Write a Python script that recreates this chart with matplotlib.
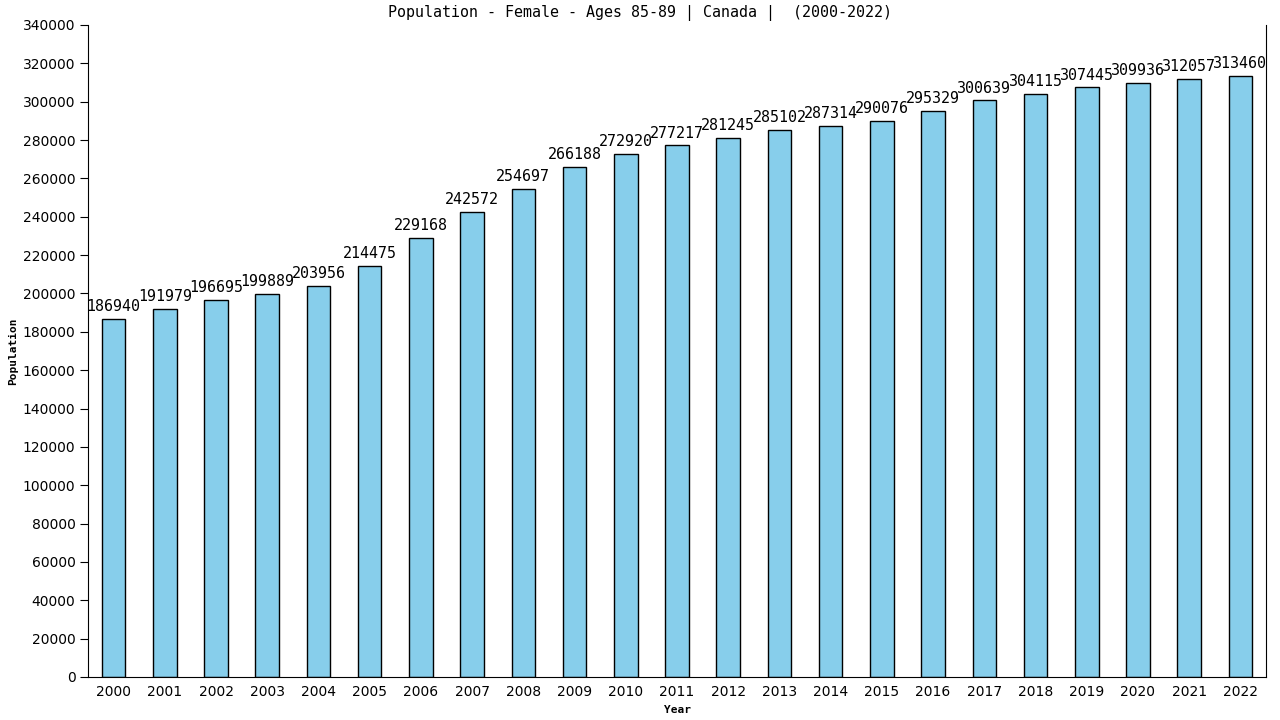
import matplotlib
matplotlib.use('Agg')
import matplotlib.pyplot as plt

years = [str(y) for y in range(2000, 2023)]
population = [186940, 191979, 196695, 199889, 203956, 214475, 229168, 242572,
              254697, 266188, 272920, 277217, 281245, 285102, 287314, 290076,
              295329, 300639, 304115, 307445, 309936, 312057, 313460]
yticks = list(range(0, 340001, 20000))

fig = plt.figure(figsize=(12.8, 7.2), dpi=100)
ax = fig.add_axes([88 / 1280, 1 - 677 / 720, (1266 - 88) / 1280, (677 - 25) / 720])

x = list(range(len(years)))
ax.bar(x, population, width=0.46, color='#87ceeb', edgecolor='black', linewidth=1)

# value labels above bars
for xi, v in zip(x, population):
    ax.text(xi, v + 2500, str(v), ha='center', va='bottom',
            family='DejaVu Sans Mono', fontsize=10.8)

ax.set_xlim(-0.5, len(years) - 0.5)
ax.set_ylim(0, 340000)
ax.set_xticks(x)
ax.set_xticklabels(years, fontsize=10)
ax.set_yticks(yticks)
ax.set_yticklabels([str(t) for t in yticks], fontsize=10)
ax.tick_params(axis='x', length=0, pad=6)
ax.tick_params(axis='y', length=6, direction='out', pad=3)

ax.spines['top'].set_visible(False)

fig.suptitle('Population - Female - Ages 85-89 | Canada |  (2000-2022)',
             family='DejaVu Sans Mono', fontsize=10.8, x=0.5, y=1 - 13 / 720, va='center')
ax.set_xlabel('Year', family='DejaVu Sans Mono', fontweight='bold', fontsize=8, labelpad=4)
ax.set_ylabel('Population', family='DejaVu Sans Mono', fontweight='bold', fontsize=8, labelpad=3)

fig.savefig('out.png', dpi=100)
